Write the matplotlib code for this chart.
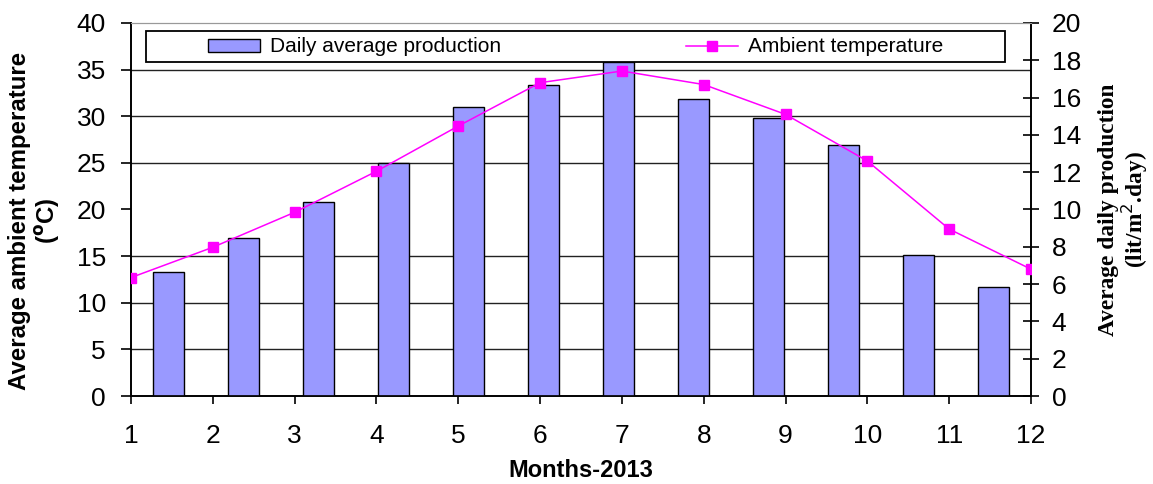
import numpy as np
import matplotlib
matplotlib.use("Agg")
import matplotlib.pyplot as plt
from matplotlib.patches import Rectangle
from matplotlib.ticker import MultipleLocator

plt.rcParams["font.family"] = ["Liberation Sans", "DejaVu Sans"]

# ---- data ----
months = [1, 2, 3, 4, 5, 6, 7, 8, 9, 10, 11, 12]
# daily average production (lit/m2.day), right axis
production = [6.67, 8.49, 10.4, 12.48, 15.5, 16.7, 17.9, 15.95, 14.9, 13.45, 7.55, 5.83]
# ambient temperature (degC), left axis
temperature = [12.7, 15.95, 19.7, 24.1, 28.95, 33.6, 34.85, 33.4, 30.2, 25.2, 17.9, 13.6]

BAR_COLOR = "#9999FF"
LINE_COLOR = "#FF00FF"
TICK_FS = 19

fig = plt.figure(figsize=(11.53, 4.84), dpi=100)
ax = fig.add_axes([131 / 1153, 88 / 484, 900 / 1153, 373 / 484])
ax2 = ax.twinx()

n = len(months)
span = n - 1
xline = np.arange(n)
# bars sit in 12 equal category slots spread over the same axis
xbar = (np.arange(n) + 0.5) * span / n
barw = 0.367

# bars on the right (production) axis, grid drawn there so it sits behind bars
bars = ax2.bar(xbar, production, width=barw, color=BAR_COLOR,
               edgecolor="black", linewidth=1.0, zorder=3,
               label="Daily average production")
ax2.set_ylim(0, 20)
ax2.yaxis.set_major_locator(MultipleLocator(2))
ax2.yaxis.set_minor_locator(MultipleLocator(2.5))
ax2.set_axisbelow(True)
ax2.grid(True, which="minor", axis="y", color="#222222", lw=1.0)
ax2.tick_params(axis="y", which="minor", length=0)
ax2.tick_params(axis="y", which="major", direction="inout", length=12,
                width=1.2, labelsize=TICK_FS, pad=9)
ax2.set_ylabel("Average daily production\n(lit/m$^2$.day)",
               family=["Liberation Serif", "DejaVu Serif"],
               fontweight="bold", fontsize=16.8, linespacing=1.05)
ax2.yaxis.set_label_coords(1.103, 0.5)
ax2.yaxis.label.set_va("center")

# temperature line on the left axis, drawn above the bars
ax.set_zorder(ax2.get_zorder() + 1)
ax.patch.set_visible(False)
line, = ax.plot(xline, temperature, color=LINE_COLOR, lw=1.1, marker="s",
                markersize=6.5, markeredgecolor=LINE_COLOR,
                label="Ambient temperature", zorder=4)
ax.set_ylim(0, 40)
ax.set_xlim(0, span)
ax.yaxis.set_major_locator(MultipleLocator(5))
ax.set_xticks(xline)
ax.set_xticklabels([str(m) for m in months])
ax.tick_params(axis="y", direction="out", length=7, width=1.2,
               labelsize=TICK_FS, pad=11)
ax.tick_params(axis="x", direction="out", length=6, width=1.2,
               labelsize=TICK_FS, pad=14)
ax.set_ylabel("Average ambient temperature\n($\\mathbf{^{o}}$C)",
              fontweight="bold", fontsize=17.3, linespacing=1.1)
ax.yaxis.set_label_coords(-0.107, 0.47)
ax.yaxis.label.set_va("center")
ax.set_xlabel("Months-2013", fontweight="bold", fontsize=17)
ax.xaxis.set_label_coords(0.5, -0.2)
ax.xaxis.label.set_va("center")

for a in (ax, ax2):
    a.spines["top"].set_color("#999999")
    a.spines["left"].set_linewidth(1.2)
    a.spines["right"].set_linewidth(1.2)
    a.spines["bottom"].set_linewidth(1.2)

# legend box spanning most of the plot width
ax.add_patch(Rectangle((15 / 900, (396 - 62) / 373), (1005 - 146) / 900,
                       31 / 373, transform=ax.transAxes, facecolor="white",
                       edgecolor="black", lw=1.3, zorder=5))
leg = ax.legend([bars, line], ["Daily average production", "Ambient temperature"],
                loc="center", bbox_to_anchor=(0.494, 0.9357), ncol=2,
                frameon=False, fontsize=15, handlelength=2.5,
                handletextpad=0.45, columnspacing=8.9, handleheight=0.6)
leg.set_zorder(6)

fig.savefig("out.png", dpi=100)
